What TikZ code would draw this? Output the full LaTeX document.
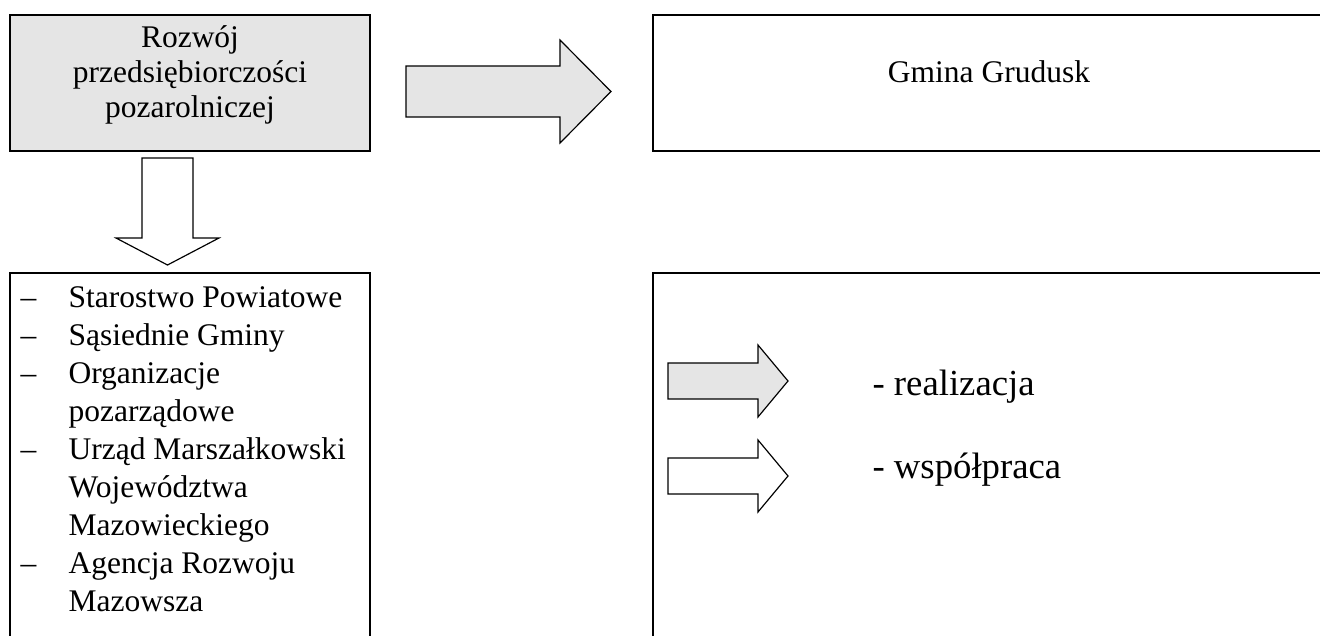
\documentclass[tikz,border=0pt]{standalone}
\usepackage{fontspec}
\setmainfont{Liberation Serif}
\usepackage{xcolor}
\usetikzlibrary{positioning}
\definecolor{boxgray}{gray}{0.9}
\newcommand{\dashitem}{\makebox[18.3pt][l]{--}}
\newcommand{\noitem}{\hspace*{18.3pt}}
\tikzset{
	box/.style={draw, line width=0.7pt, inner sep=0pt},
	blockarrow/.style={draw, line width=0.45pt, line join=miter},
	txt/.style={font=\fontsize{12}{13.4}\selectfont, inner sep=0pt},
	bigtxt/.style={font=\fontsize{14}{16}\selectfont, inner sep=0pt}
}

\begin{document}
\begin{tikzpicture}[x=0.381pt, y=-0.381pt]
					\useasboundingbox (0,0) rectangle (1320,636);
					% upper boxes
					\node[box, fill=boxgray, minimum width=137.2pt, minimum height=51.8pt] (rozwoj) at (190,83) {};
					\node[txt, align=center, anchor=north] (rozwojTxt) at (190,25) {Rozwój\\przedsiębiorczości\\pozarolniczej};
					\node[box, minimum width=256pt, minimum height=51.8pt] (gmina) at (989,83) {};
					\node[txt, anchor=base] (gminaTxt) at (989,82) {Gmina Grudusk};
					% lower boxes
					\node[box, minimum width=137.2pt, minimum height=143.6pt] (partnerzy) at (190,461.5) {};
					\node[box, minimum width=256pt, minimum height=143.6pt] (legenda) at (989,461.5) {};
					% list of partners
					\node[anchor=north west, align=left, inner sep=0pt, font=\fontsize{12}{14.5}\selectfont] (lista) at (20,286) {\dashitem Starostwo Powiatowe\\
						\dashitem Sąsiednie Gminy\\
						\dashitem Organizacje\\
						\noitem pozarządowe\\
						\dashitem Urząd Marszałkowski\\
						\noitem Województwa\\
						\noitem Mazowieckiego\\
						\dashitem Agencja Rozwoju\\
						\noitem Mazowsza};
					% block arrows
					\draw[blockarrow, fill=boxgray] (406,66) -- (560,66) -- (560,40) -- (611,91.5) -- (560,143) -- (560,117) -- (406,117) -- cycle;
					\draw[blockarrow, fill=white] (142,158) -- (193,158) -- (193,238) -- (219,238) -- (167.5,265) -- (116,238) -- (142,238) -- cycle;
					% legend
					\draw[blockarrow, fill=boxgray] (668,363) -- (758,363) -- (758,345) -- (788,381) -- (758,417) -- (758,399) -- (668,399) -- cycle;
					\draw[blockarrow, fill=white] (668,458) -- (758,458) -- (758,440) -- (788,476) -- (758,512) -- (758,494) -- (668,494) -- cycle;
					\node[bigtxt, anchor=base west] (realizacja) at (872,395) {- realizacja};
					\node[bigtxt, anchor=base west] (wspolpraca) at (872,478) {- współpraca};
				\end{tikzpicture}
\end{document}
